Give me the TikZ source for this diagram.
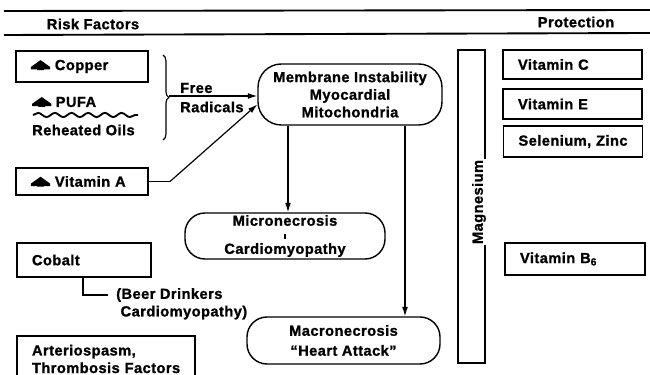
\documentclass[tikz,border=0pt]{standalone}
\usepackage{fontspec}
\setmainfont{Liberation Sans}[BoldFeatures={FakeBold=1.2, LetterSpace=3}]
\usetikzlibrary{calc, arrows.meta, decorations.pathreplacing, decorations.pathmorphing}

% small filled up-marker in front of a risk factor
\newcommand{\upmark}{\tikz[baseline=0pt]\fill (0,0.05em) -- (0.42em,0.05em) -- (0.42em,0) -- (0.88em,0) -- (0.88em,0.05em) -- (1.3em,0.05em) -- (1.3em,0.22em) -- (0.65em,0.68em) -- (0,0.22em) -- cycle;\ }

\begin{document}
\begin{tikzpicture}[x=0.03cm, y=-0.03cm,
    font=\fontsize{12.5}{15}\selectfont\bfseries,
    box/.style={draw, line width=1.2pt, inner xsep=0.45cm, inner ysep=0pt, align=left},
    pill/.style={draw, line width=1.2pt, rounded corners=0.7cm, inner sep=0pt, align=center},
    arr/.style={line width=1pt, -{Latex[length=8pt, width=5pt]}}]
            \path[use as bounding box] (0,0) rectangle (650,375);
            \clip (0,0) rectangle (650,375);

            % header
            \coordinate (ruleAl) at (4,11);
            \coordinate (ruleAr) at (650,10);
            \coordinate (ruleBl) at (4,35);
            \coordinate (ruleBr) at (650,33);
            \draw[line width=1.6pt] (ruleAl) -- (ruleAr);
            \draw[line width=1.6pt] (ruleBl) -- (ruleBr);
            \node (risk) at (93,24) {Risk Factors};
            \node (prot) at (576,22) {Protection};

            % risk factors
            \node[box, text width=3.06cm, minimum height=0.93cm] (copper) at (82,66.5) {\upmark Copper};
            \node[anchor=west, inner sep=0pt] (pufa) at (32,102) {\upmark PUFA};
            \coordinate (w1) at (33,115);
            \coordinate (w2) at (138,115);
            \draw[line width=1.6pt, decorate, decoration={snake, segment length=0.5cm, amplitude=1.8pt}] (w1) -- (w2);
            \node[anchor=west, inner sep=0pt] (oils) at (32,130) {Reheated Oils};
            \node[box, text width=3.06cm, minimum height=0.81cm] (vita) at (82,181.5) {\upmark Vitamin A};
            \node[box, text width=3.12cm, minimum height=1.02cm] (cobalt) at (84,260) {Cobalt};
            \node[box, text width=4.44cm, minimum height=1.38cm] (arter) at (106,359) {Arteriospasm,\\Thrombosis Factors};
            \node[anchor=north west, inner sep=0pt, align=left] (beer) at (116,288) {(Beer Drinkers\\\hspace*{0.3em}Cardiomyopathy)};

            % brace and free radicals
            \coordinate (bt) at (163,55);
            \coordinate (bb) at (163,140);
            \draw[line width=1pt, decorate, decoration={brace, amplitude=5pt}] (bt) -- (bb);
            \coordinate (rad) at (169,96);
            \node[anchor=west, inner sep=0pt] (free) at (180,88) {Free};
            \node[anchor=west, inner sep=0pt] (radicals) at (180,107) {Radicals};

            % damage chain
            \node[pill, minimum width=5.52cm, minimum height=1.83cm] (mem) at (350,94.5) {Membrane Instability\\Myocardial\\Mitochondria};
            \node[pill, minimum width=6cm, minimum height=1.38cm, rounded corners=0.6cm] (micro) at (285,236) {Micronecrosis\\[-4pt]\rule{1pt}{4pt}\\[-2pt]Cardiomyopathy};
            \node[pill, minimum width=5.79cm, minimum height=1.41cm, rounded corners=0.6cm] (macro) at (343.5,340.5) {Macronecrosis\\[2pt]“Heart Attack”};

            \draw[arr] (rad) -- (rad -| mem.west);
            \coordinate (vbend) at (170,181.5);
            \coordinate (vtip) at ($(mem.west)+(0,10)$);
            \draw[line width=1pt] (vita.east) -- (vbend);
            \draw[arr] (vbend) -- (vtip);

            \coordinate (m1) at (288,0);
            \coordinate (m2) at (405,0);
            \draw[arr] (mem.south -| m1) -- (micro.north -| m1);
            \draw[arr] (mem.south -| m2) -- (macro.north -| m2);

            \coordinate (cb) at (83,0);
            \coordinate (cend) at (108,295);
            \draw[line width=1.2pt] (cobalt.south -| cb) |- (cend);

            % magnesium
            \node[draw, line width=1.2pt, minimum width=0.81cm, minimum height=9.39cm, inner sep=0pt] (mg) at (471.5,206.5) {};
            \node[rotate=90, fill=white, inner sep=1pt] (mglabel) at (479,202) {Magnesium};

            % protection
            \node[box, text width=3.27cm, minimum height=0.87cm] (vitc) at (572.5,64.5) {Vitamin C};
            \node[box, text width=3.27cm, minimum height=0.9cm] (vite) at (572.5,104) {Vitamin E};
            \node[box, text width=3.27cm, minimum height=0.93cm] (sel) at (573,141.5) {Selenium, Zinc};
            \node[box, text width=3.3cm, minimum height=0.96cm] (vitb) at (575,259) {Vitamin B\textsubscript{6}};
        \end{tikzpicture}
\end{document}
